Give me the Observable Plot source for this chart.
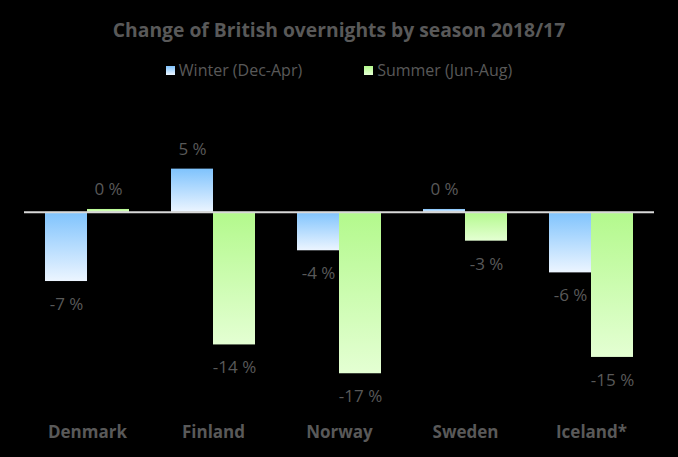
<!DOCTYPE html>
<html>
<head>
<meta charset="utf-8">
<script src="https://cdn.jsdelivr.net/npm/d3@7"></script>
<script src="https://cdn.jsdelivr.net/npm/@observablehq/plot@0.6"></script>
<style>
  html, body { margin: 0; padding: 0; background: #000; }
  body { width: 678px; height: 457px; overflow: hidden; font-family: "Open Sans", Lato, sans-serif; }
  #title { position: absolute; left: 0; top: 17px; width: 678px; text-align: center; font-weight: bold; font-size: 19.3px; line-height: 26px; color: #595959; }
  #legend { position: absolute; left: 0; top: 59px; width: 678px; text-align: center; font-size: 16px; line-height: 22px; color: #595959; }
  #legend span.item { display: inline-block; margin: 0 31px; }
  #legend span.sw { display: inline-block; width: 9px; height: 9px; margin-right: 4px; vertical-align: 1px; }
  #chart { position: absolute; left: 0; top: 90px; }
</style>
</head>
<body>
<div id="title">Change of British overnights by season 2018/17</div>
<div id="legend"></div>
<div id="chart"></div>
<script>
const countries = ["Denmark", "Finland", "Norway", "Sweden", "Iceland*"];
const seasons = ["Winter (Dec-Apr)", "Summer (Jun-Aug)"];
const winterValues = [-7.2, 4.5, -4.0, 0.3, -6.3];
const summerValues = [0.3, -13.8, -16.8, -3.0, -15.1];
const colors = { top: ["#7fc3fd", "#b3f98c"], bottom: ["#ecf5ff", "#e4ffd3"] };

const data = [];
countries.forEach((c, i) => {
  data.push({ country: c, season: seasons[0], value: winterValues[i], grad: "url(#gradW)" });
  data.push({ country: c, season: seasons[1], value: summerValues[i], grad: "url(#gradS)" });
});
const fmt = d => `${Math.round(d.value)} %`;

// legend
const legend = document.getElementById("legend");
seasons.forEach((s, i) => {
  const item = document.createElement("span");
  item.className = "item";
  const sw = document.createElement("span");
  sw.className = "sw";
  sw.style.background = `linear-gradient(${colors.top[i]}, ${colors.bottom[i]})`;
  item.appendChild(sw);
  item.appendChild(document.createTextNode(s));
  legend.appendChild(item);
});

const plot = Plot.plot({
  width: 678,
  height: 367,
  marginLeft: 22,
  marginRight: 23,
  marginTop: 45,
  marginBottom: 53,
  style: { background: "transparent", fontFamily: "'Open Sans', Lato, sans-serif" },
  fx: { domain: countries, padding: 0, label: null, axis: "bottom", tickSize: 0, tickPadding: 21 },
  x: { domain: seasons, paddingInner: 0, paddingOuter: 0.5, axis: null },
  y: { domain: [-20, 8], axis: null },
  marks: [
    Plot.barY(data, { fx: "country", x: "season", y: "value", fill: "grad" }),
    Plot.ruleY([0], { stroke: "#d9d9d9", strokeWidth: 2 }),
    Plot.text(data.filter(d => d.value >= 0), { fx: "country", x: "season", y: "value", text: fmt, dy: -20, fill: "#595959", fontSize: 17 }),
    Plot.text(data.filter(d => d.value < 0), { fx: "country", x: "season", y: "value", text: fmt, dy: 23, fill: "#595959", fontSize: 17 })
  ]
});

// gradients
const svgNS = "http://www.w3.org/2000/svg";
const defs = document.createElementNS(svgNS, "defs");
[["gradW", 0], ["gradS", 1]].forEach(([id, i]) => {
  const g = document.createElementNS(svgNS, "linearGradient");
  g.setAttribute("id", id);
  g.setAttribute("x1", "0"); g.setAttribute("y1", "0");
  g.setAttribute("x2", "0"); g.setAttribute("y2", "1");
  [["0%", colors.top[i]], ["100%", colors.bottom[i]]].forEach(([o, c]) => {
    const st = document.createElementNS(svgNS, "stop");
    st.setAttribute("offset", o);
    st.setAttribute("stop-color", c);
    g.appendChild(st);
  });
  defs.appendChild(g);
});
const svg = plot.tagName.toLowerCase() === "svg" ? plot : plot.querySelector("svg");
svg.insertBefore(defs, svg.firstChild);
// style fx axis labels
svg.querySelectorAll('[aria-label="fx-axis tick label"] text, [aria-label="fx-axis"] text').forEach(t => {
  t.setAttribute("fill", "#595959");
  t.style.fontSize = "17px";
  t.style.fontWeight = "bold";
});
document.getElementById("chart").appendChild(plot);
</script>
</body>
</html>
